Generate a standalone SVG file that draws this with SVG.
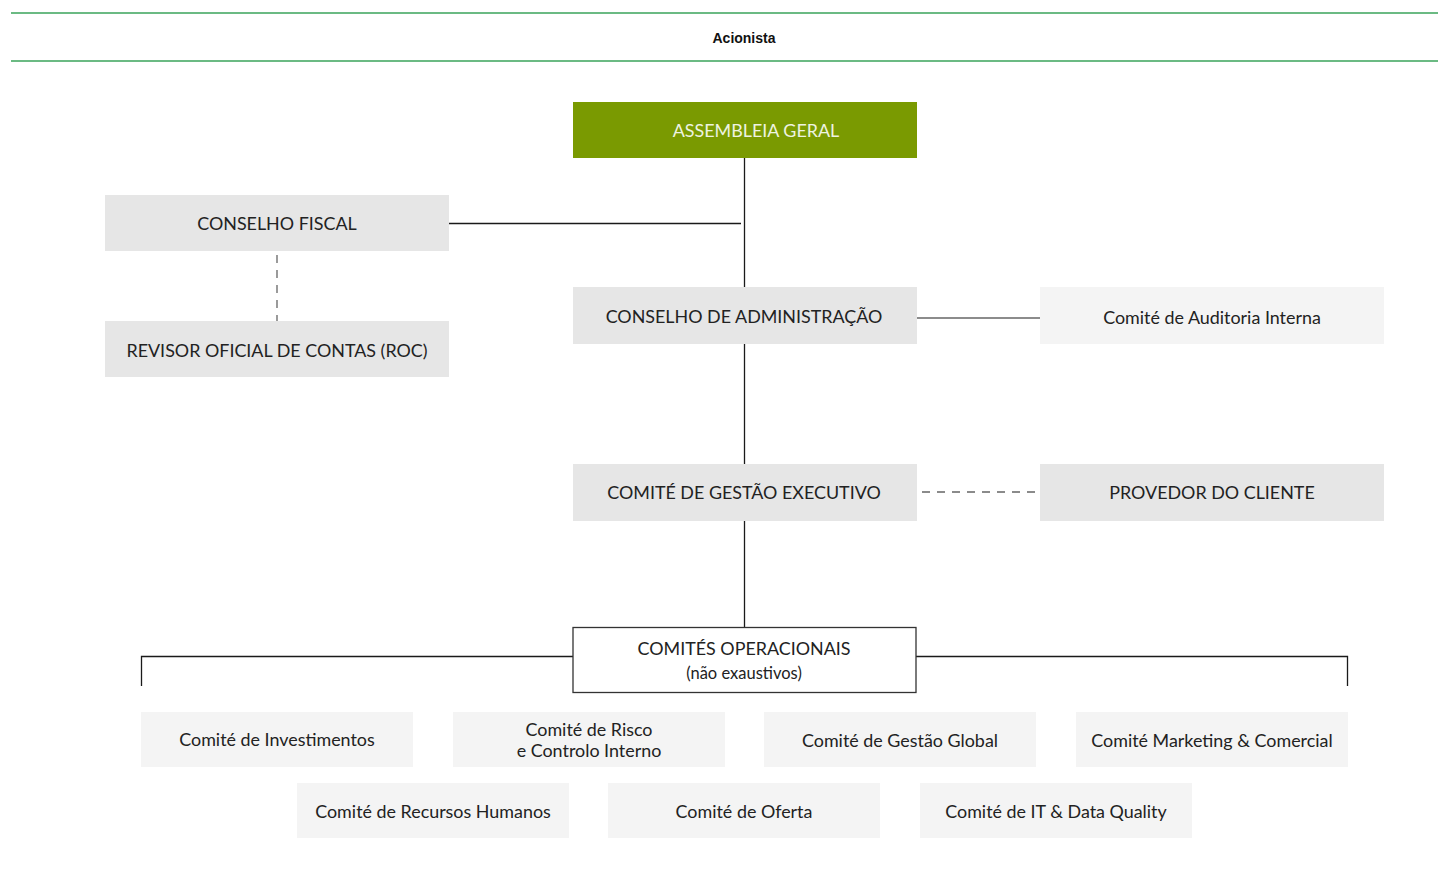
<svg xmlns="http://www.w3.org/2000/svg" width="1438" height="872" viewBox="0 0 1438 872">
<style>
text{font-family:Lato,"Open Sans","Liberation Sans",sans-serif;font-size:17.9px;fill:#222;text-anchor:middle;dominant-baseline:central}
.g1{fill:#e6e6e6}
.g2{fill:#f4f4f4}
.ln{stroke:#1a1a1a;stroke-width:1.3;fill:none}
.lg{stroke:#666;stroke-width:1.5;fill:none}
.dash{stroke:#666;stroke-width:1.3;stroke-dasharray:8,7;fill:none}
.top{stroke:#3aa35a;stroke-width:1.3}
</style>
<rect width="1438" height="872" fill="#fff"/>
<g id="header">
<line class="top" x1="11" y1="13" x2="1438" y2="13"/>
<line class="top" x1="11" y1="61" x2="1438" y2="61"/>
<text x="744" y="38" style="font-family:'Liberation Sans',sans-serif;font-weight:bold;font-size:14px;fill:#111">Acionista</text>
</g>
<g id="connectors">
<line class="ln" x1="744.5" y1="158" x2="744.5" y2="287"/>
<line class="ln" x1="449" y1="223.5" x2="741" y2="223.5"/>
<line class="dash" x1="277" y1="255" x2="277" y2="321"/>
<line class="ln" x1="744.5" y1="344" x2="744.5" y2="464"/>
<line class="lg" x1="917" y1="318" x2="1040" y2="318"/>
<line class="dash" x1="922" y1="492" x2="1040" y2="492"/>
<line class="ln" x1="744.5" y1="521" x2="744.5" y2="627"/>
<polyline class="ln" points="141.5,686 141.5,656.5 573,656.5"/>
<polyline class="ln" points="916,656.5 1347.5,656.5 1347.5,686"/>
</g>
<g id="assembleia">
<rect x="573" y="102" width="344" height="56" fill="#7a9a01"/>
<text x="756" y="130" style="fill:#eef3e0">ASSEMBLEIA GERAL</text>
</g>
<g id="conselho-fiscal">
<rect class="g1" x="105" y="195" width="344" height="56"/>
<text x="277" y="223">CONSELHO FISCAL</text>
</g>
<g id="roc">
<rect class="g1" x="105" y="321" width="344" height="56"/>
<text x="277" y="350">REVISOR OFICIAL DE CONTAS (ROC)</text>
</g>
<g id="conselho-admin">
<rect class="g1" x="573" y="287" width="344" height="57"/>
<text x="744" y="316">CONSELHO DE ADMINISTRAÇÃO</text>
</g>
<g id="auditoria">
<rect class="g2" x="1040" y="287" width="344" height="57"/>
<text x="1212" y="317">Comité de Auditoria Interna</text>
</g>
<g id="gestao-executivo">
<rect class="g1" x="573" y="464" width="344" height="57"/>
<text x="744" y="492">COMITÉ DE GESTÃO EXECUTIVO</text>
</g>
<g id="provedor">
<rect class="g1" x="1040" y="464" width="344" height="57"/>
<text x="1212" y="492">PROVEDOR DO CLIENTE</text>
</g>
<g id="operacionais">
<rect x="573" y="627.5" width="343" height="65" fill="#fff" stroke="#333" stroke-width="1.3"/>
<text x="744" y="648">COMITÉS OPERACIONAIS</text>
<text x="744" y="673" style="font-size:16.5px">(não exaustivos)</text>
</g>
<g id="investimentos">
<rect class="g2" x="141" y="712" width="272" height="55"/>
<text x="277" y="739">Comité de Investimentos</text>
</g>
<g id="risco">
<rect class="g2" x="453" y="712" width="272" height="55"/>
<text x="589" y="729">Comité de Risco</text>
<text x="589" y="750">e Controlo Interno</text>
</g>
<g id="gestao-global">
<rect class="g2" x="764" y="712" width="272" height="55"/>
<text x="900" y="740">Comité de Gestão Global</text>
</g>
<g id="marketing">
<rect class="g2" x="1076" y="712" width="272" height="55"/>
<text x="1212" y="740">Comité Marketing &amp; Comercial</text>
</g>
<g id="recursos-humanos">
<rect class="g2" x="297" y="783" width="272" height="55"/>
<text x="433" y="811">Comité de Recursos Humanos</text>
</g>
<g id="oferta">
<rect class="g2" x="608" y="783" width="272" height="55"/>
<text x="744" y="811">Comité de Oferta</text>
</g>
<g id="it-data">
<rect class="g2" x="920" y="783" width="272" height="55"/>
<text x="1056" y="811">Comité de IT &amp; Data Quality</text>
</g>
</svg>
